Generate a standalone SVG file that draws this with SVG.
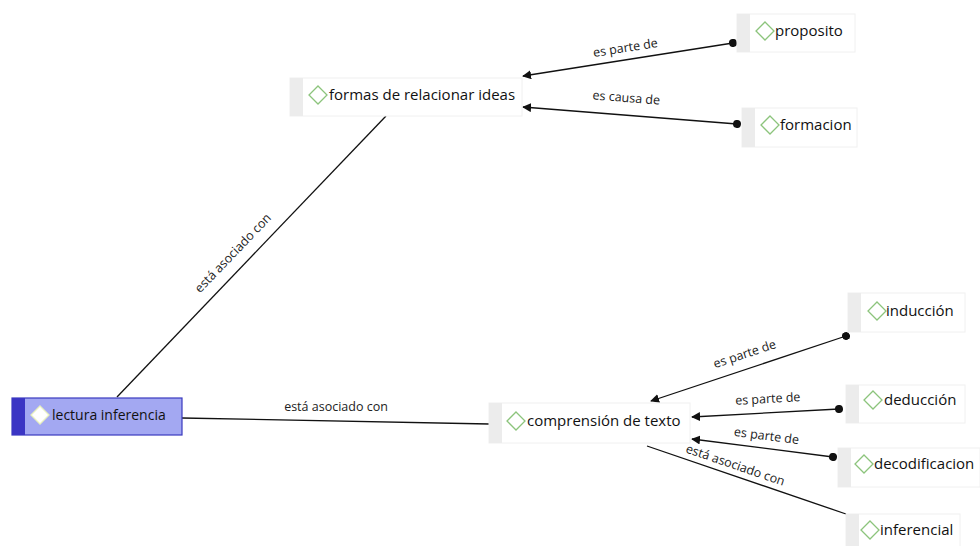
<svg xmlns="http://www.w3.org/2000/svg" width="980" height="546" viewBox="0 0 980 546">
  <style>
    .node rect.body { fill: #ffffff; stroke: #f0f0f0; stroke-width: 1; }
    .node rect.tab { fill: #ececec; }
    .node text { font-family: "Open Sans", "Noto Sans", "DejaVu Sans", sans-serif; font-size: 15px; fill: #111111; }
    .icon { fill: none; stroke: #8cc47c; stroke-width: 1.3; }
    .root rect.body { fill: #a3a8f2; stroke: #3a3abf; stroke-width: 1.2; }
    .root rect.tab { fill: #3b35c4; }
    .root .icon { fill: #ffffff; stroke: #e8f0c0; }
    .root text { font-size: 14px; }
    .edge { stroke: #111111; stroke-width: 1.3; fill: none; }
    .lbl { font-family: "Open Sans", "Noto Sans", "DejaVu Sans", sans-serif; font-size: 12.5px; fill: #222222; text-anchor: middle; }
  </style>
  <defs>
    <marker id="arrow" viewBox="0 0 10 10" refX="9" refY="5" markerWidth="9" markerHeight="9" markerUnits="userSpaceOnUse" orient="auto">
      <path d="M0,0 L10,5 L0,10 z" fill="#111111"/>
    </marker>
    <marker id="dot" viewBox="0 0 10 10" refX="5" refY="5" markerWidth="8" markerHeight="8" markerUnits="userSpaceOnUse" orient="auto">
      <circle cx="5" cy="5" r="5" fill="#111111"/>
    </marker>
  </defs>
  <rect width="980" height="546" fill="#ffffff"/>

  <g id="connectors">
    <line class="edge" x1="117" y1="397" x2="386" y2="116"/>
    <text class="lbl" transform="translate(236,256) rotate(-46.2)">está asociado con</text>
    <line class="edge" x1="182" y1="418" x2="489" y2="424"/>
    <text class="lbl" x="336" y="411">está asociado con</text>

    <line class="edge" x1="733" y1="43" x2="523" y2="76" marker-start="url(#dot)" marker-end="url(#arrow)"/>
    <text class="lbl" transform="translate(626,52) rotate(-8.9)">es parte de</text>
    <line class="edge" x1="737" y1="124" x2="523" y2="107" marker-start="url(#dot)" marker-end="url(#arrow)"/>
    <text class="lbl" transform="translate(626,102) rotate(4.5)">es causa de</text>

    <line class="edge" x1="846" y1="336" x2="651" y2="401" marker-start="url(#dot)" marker-end="url(#arrow)"/>
    <text class="lbl" transform="translate(746,358) rotate(-18.4)">es parte de</text>
    <line class="edge" x1="839" y1="409" x2="692" y2="417" marker-start="url(#dot)" marker-end="url(#arrow)"/>
    <text class="lbl" transform="translate(768,403) rotate(-3.1)">es parte de</text>
    <line class="edge" x1="833" y1="457" x2="692" y2="439" marker-start="url(#dot)" marker-end="url(#arrow)"/>
    <text class="lbl" transform="translate(766,440) rotate(7.3)">es parte de</text>
    <line class="edge" x1="647" y1="446" x2="846" y2="514"/>
    <text class="lbl" transform="translate(734,469) rotate(18.9)">está asociado con</text>
  </g>

  <g id="node-lectura" class="node root">
    <rect class="body" x="12" y="398" width="170" height="37"/>
    <rect class="tab" x="12" y="398" width="13" height="37"/>
    <path class="icon" d="M40,406 L49,415 L40,424 L31,415 Z"/>
    <text x="52" y="420">lectura inferencia</text>
  </g>

  <g id="node-formas" class="node">
    <rect class="body" x="290" y="78" width="232" height="38"/>
    <rect class="tab" x="290" y="78" width="13" height="38"/>
    <path class="icon" d="M318,86 L327,95 L318,104 L309,95 Z"/>
    <text x="329" y="100">formas de relacionar ideas</text>
  </g>

  <g id="node-proposito" class="node">
    <rect class="body" x="737" y="14" width="118" height="38"/>
    <rect class="tab" x="737" y="14" width="13" height="38"/>
    <path class="icon" d="M765,22 L774,31 L765,40 L756,31 Z"/>
    <text x="775" y="36">proposito</text>
  </g>

  <g id="node-formacion" class="node">
    <rect class="body" x="742" y="108" width="115" height="39"/>
    <rect class="tab" x="742" y="108" width="13" height="39"/>
    <path class="icon" d="M770,116 L779,125 L770,134 L761,125 Z"/>
    <text x="780" y="130">formacion</text>
  </g>

  <g id="node-comprension" class="node">
    <rect class="body" x="489" y="403" width="201" height="40"/>
    <rect class="tab" x="489" y="403" width="13" height="40"/>
    <path class="icon" d="M516,412 L525,421 L516,430 L507,421 Z"/>
    <text x="527" y="426">comprensión de texto</text>
  </g>

  <g id="node-induccion" class="node">
    <rect class="body" x="848" y="293" width="117" height="39"/>
    <rect class="tab" x="848" y="293" width="13" height="39"/>
    <path class="icon" d="M877,302 L886,311 L877,320 L868,311 Z"/>
    <text x="886" y="316">inducción</text>
  </g>

  <g id="node-deduccion" class="node">
    <rect class="body" x="846" y="385" width="119" height="38"/>
    <rect class="tab" x="846" y="385" width="13" height="38"/>
    <path class="icon" d="M873,391 L882,400 L873,409 L864,400 Z"/>
    <text x="884" y="405">deducción</text>
  </g>

  <g id="node-decodificacion" class="node">
    <rect class="body" x="838" y="448" width="142" height="39"/>
    <rect class="tab" x="838" y="448" width="13" height="39"/>
    <path class="icon" d="M864,455 L873,464 L864,473 L855,464 Z"/>
    <text x="874" y="469">decodificacion</text>
  </g>

  <g id="node-inferencial" class="node">
    <rect class="body" x="846" y="514" width="114" height="36"/>
    <rect class="tab" x="846" y="514" width="13" height="36"/>
    <path class="icon" d="M870,521 L879,530 L870,539 L861,530 Z"/>
    <text x="880" y="535">inferencial</text>
  </g>
</svg>
